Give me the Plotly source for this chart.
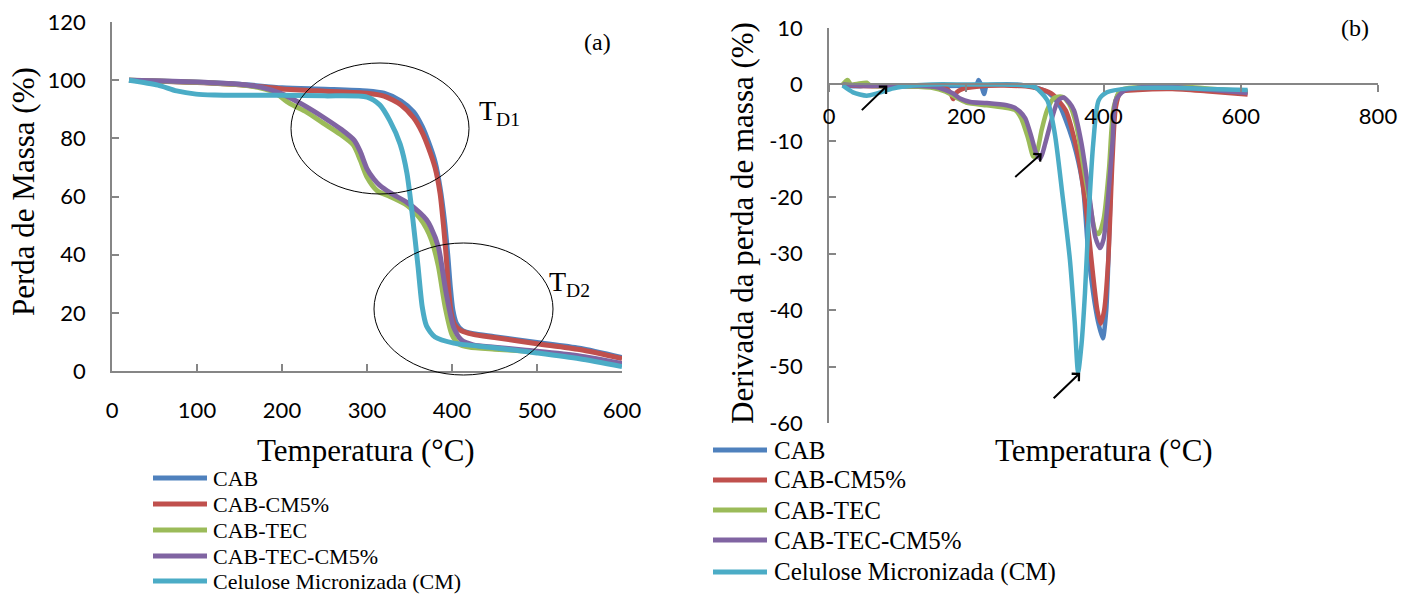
import plotly.graph_objects as go

W, H = 1414, 596

names = ["CAB", "CAB-CM5%", "CAB-TEC", "CAB-TEC-CM5%", "Celulose Micronizada (CM)"]
colors = ["#4F81BD", "#C0504D", "#9BBB59", "#8064A2", "#4BACC6"]

# ---------- (a) TG: Perda de Massa (%) vs Temperatura ----------
tg_cab_x = [20, 100, 150, 200, 250, 300, 320, 340, 355, 365, 372, 380, 386, 391, 395, 398, 401, 405, 412, 425, 450, 500, 550, 600]
tg_cab_y = [100, 99.3, 98.6, 97.4, 96.9, 96.3, 95.5, 92.8, 89, 84, 79, 72, 63, 52, 40, 29, 21, 16.5, 14, 12.8, 11.8, 9.8, 7.8, 4.6]

tg_cm5_x = [20, 100, 150, 200, 250, 300, 320, 340, 355, 365, 372, 380, 386, 390, 393, 396, 399, 403, 410, 425, 450, 500, 550, 600]
tg_cm5_y = [100, 99.2, 98.4, 97.0, 96.2, 95.5, 94.5, 91.5, 87, 82, 77, 70, 61, 50, 40, 28, 20, 16, 14, 12.6, 11.5, 9.4, 7.4, 4.3]

tg_tec_x = [20, 100, 150, 175, 190, 209, 229, 248, 268, 284, 292, 300, 312, 327, 347, 362, 370, 376, 384, 392, 400, 408, 420, 450, 484, 500, 550, 600]
tg_tec_y = [100, 99.3, 98.4, 97.3, 96, 92, 89, 85.3, 81.5, 77.7, 72.6, 66.7, 62, 60, 57, 52.6, 49, 45, 36, 22, 12.5, 9.3, 8.2, 7.5, 6.9, 6.5, 5, 2.3]

tg_teccm_x = [20, 100, 150, 175, 200, 225, 250, 270, 285, 292, 300, 308, 315, 327, 347, 362, 370, 375, 384, 393, 402, 411, 425, 450, 484, 500, 550, 600]
tg_teccm_y = [100, 99.4, 98.6, 97.6, 95.3, 91.5, 87, 83, 79.3, 75.5, 69.5, 66, 63.8, 61.3, 58, 54.5, 52, 49.5, 42.6, 27, 15, 10.7, 9, 8.2, 7.2, 6.8, 5.2, 2.6]

tg_cm_x = [20, 54, 76, 99, 121, 150, 200, 250, 300, 315, 327, 339, 347, 354, 360, 365, 370, 380, 402, 450, 500, 550, 600]
tg_cm_y = [100, 98.3, 96.3, 95.2, 94.9, 94.8, 94.8, 94.6, 94.2, 91.5, 86, 78, 68, 52, 36, 22, 15.5, 11.7, 9.6, 8, 6.2, 4.2, 1.5]

# ---------- (b) DTG: Derivada da perda de massa (%) vs Temperatura ----------
dtg_cab_x = [20, 30, 50, 80, 100, 150, 200, 215, 218, 222, 226, 230, 250, 280, 300, 320, 335, 350, 360, 370, 378, 385, 392, 399, 404, 409, 414, 420, 430, 450, 500, 550, 610]
dtg_cab_y = [0, -0.3, -0.3, -0.2, -0.3, -0.3, -0.2, 0, 0.8, -0.2, -1.7, -0.2, 0, -0.1, -0.5, -1.5, -3.5, -8, -12, -18, -30, -37, -42, -45, -40, -24, -8, -2, -1, -0.8, -0.6, -0.8, -1.3]

dtg_cm5_x = [20, 50, 100, 150, 170, 177, 181, 186, 195, 215, 250, 280, 300, 324, 345, 357, 365, 373, 379, 385, 391, 396, 401, 407, 413, 418, 425, 450, 500, 550, 610]
dtg_cm5_y = [0, -0.3, -0.3, -0.4, -0.6, -1.5, -2.6, -1.4, -0.8, -0.4, -0.2, -0.3, -0.6, -1.6, -4.6, -9.4, -14, -20.6, -27, -34, -40, -42.4, -40, -31, -13.5, -4, -1.4, -1.0, -0.8, -1.2, -1.8]

dtg_tec_x = [20, 27, 32, 55, 60, 100, 150, 170, 185, 200, 230, 260, 272, 280, 290, 298, 303, 310, 318, 328, 340, 350, 360, 370, 380, 388, 393, 400, 408, 415, 425, 450, 490, 550, 610]
dtg_tec_y = [0, 0.8, 0, 0.3, -0.2, -0.3, -0.6, -1.3, -2.3, -3.2, -3.7, -4.2, -4.6, -6, -9.5, -12.8, -12, -8, -4.5, -2.4, -2.2, -3.5, -7, -14, -21, -26, -26.5, -24, -15, -4, -1, -0.5, -0.2, -0.7, -1.2]

dtg_teccm_x = [20, 50, 100, 133, 157, 170, 181, 191, 206, 230, 259, 270, 278, 286, 295, 302, 308, 315, 324, 334, 342, 350, 357, 368, 379, 388, 395, 400, 405, 413, 418, 430, 450, 480, 500, 550, 610]
dtg_teccm_y = [0, -0.2, -0.3, -0.3, -0.5, -1, -1.6, -2.5, -3.1, -3.3, -3.7, -4.1, -4.8, -6, -9.3, -12.2, -13.1, -10.5, -6.4, -2.8, -2.3, -3.2, -4.6, -10.5, -19.4, -27, -29, -27.5, -22.4, -10.5, -2.8, -1.1, -0.6, -0.3, -0.4, -0.9, -1.5]

dtg_cm_x = [20, 35, 55, 70, 94, 122, 150, 200, 250, 280, 300, 318, 329, 340, 351, 358, 363, 368, 373, 379, 385, 393, 405, 436, 500, 550, 610]
dtg_cm_y = [-0.2, -1.4, -2, -1.6, -0.7, -0.2, 0, 0, 0, -0.1, -0.5, -2.8, -8.7, -19.4, -31, -42, -51, -46, -37, -22, -10.5, -2.8, -1.4, -0.7, -0.6, -0.8, -1.0]

tg_series = [(tg_cab_x, tg_cab_y), (tg_cm5_x, tg_cm5_y), (tg_tec_x, tg_tec_y),
             (tg_teccm_x, tg_teccm_y), (tg_cm_x, tg_cm_y)]
dtg_series = [(dtg_cab_x, dtg_cab_y), (dtg_cm5_x, dtg_cm5_y), (dtg_tec_x, dtg_tec_y),
              (dtg_teccm_x, dtg_teccm_y), (dtg_cm_x, dtg_cm_y)]

x1_ticks = [0, 100, 200, 300, 400, 500, 600]
y1_ticks = [0, 20, 40, 60, 80, 100, 120]
x2_ticks = [0, 200, 400, 600, 800]
y2_ticks = [10, 0, -10, -20, -30, -40, -50, -60]

x_title = "Temperatura (°C)"
y1_title = "Perda de Massa (%)"
y2_title = "Derivada da perda de massa (%)"

fig = go.Figure()
for (xs, ys), nm, c in zip(tg_series, names, colors):
    fig.add_trace(go.Scatter(x=xs, y=ys, mode="lines", name=nm, showlegend=False,
                             line=dict(color=c, width=5, shape="spline", smoothing=0.7),
                             xaxis="x", yaxis="y"))
for (xs, ys), nm, c in zip(dtg_series, names, colors):
    fig.add_trace(go.Scatter(x=xs, y=ys, mode="lines", name=nm, showlegend=False,
                             line=dict(color=c, width=4.5, shape="spline", smoothing=0.7),
                             xaxis="x2", yaxis="y2"))

def px(x):
    return x / W

def py(y):
    return 1 - y / H

AX = "#868686"
tickfont = dict(family="Lato", size=22, color="black")
serif = "Liberation Serif"

y2_dom = [py(423), py(28)]
x2_pos = y2_dom[0] + (0 - (-60)) / 70 * (y2_dom[1] - y2_dom[0])

common = dict(showline=True, linecolor=AX, linewidth=1.5, tickcolor=AX, tickwidth=1.5,
              ticklen=7, showgrid=False, zeroline=False, automargin=False, tickfont=tickfont)

fig.update_layout(
    template="none",
    width=W, height=H,
    margin=dict(l=0, r=0, t=0, b=0),
    paper_bgcolor="white", plot_bgcolor="rgba(0,0,0,0)",
    showlegend=False,
    xaxis=dict(domain=[px(112), px(622)], range=[0, 600], anchor="y", ticks="inside",
               tickvals=x1_ticks, ticktext=[str(v) for v in x1_ticks], ticklabelstandoff=19, **common),
    yaxis=dict(domain=[py(371), py(22)], range=[0, 120], anchor="x", ticks="inside",
               tickvals=y1_ticks, ticktext=[str(v) for v in y1_ticks], ticklabelstandoff=20, **common),
    xaxis2=dict(domain=[px(829), px(1378)], range=[0, 800], anchor="free", position=x2_pos,
                ticks="outside", tickvals=x2_ticks, ticktext=[str(v) for v in x2_ticks],
                ticklabelstandoff=5, **common),
    yaxis2=dict(domain=y2_dom, range=[-60, 10], anchor="x2", ticks="inside",
                tickvals=y2_ticks, ticktext=[str(v) for v in y2_ticks], ticklabelstandoff=20, **common),
)

ann = []
# axis titles
ann.append(dict(x=px(366), y=py(450), text=x_title, font=dict(family=serif, size=31, color="black")))
ann.append(dict(x=px(1104), y=py(450), text=x_title, font=dict(family=serif, size=31, color="black")))
ann.append(dict(x=px(23), y=py(192), text=y1_title, textangle=-90, font=dict(family=serif, size=31, color="black")))
ann.append(dict(x=px(742), y=py(223), text=y2_title, textangle=-90, font=dict(family=serif, size=31, color="black")))
# panel labels
ann.append(dict(x=px(597), y=py(42), text="(a)", font=dict(family=serif, size=24, color="black")))
ann.append(dict(x=px(1355), y=py(28), text="(b)", font=dict(family=serif, size=24, color="black")))
# T_D labels
ann.append(dict(x=px(477), y=py(113), text="T<sub>D1</sub>", xanchor="left", font=dict(family=serif, size=28, color="black")))
ann.append(dict(x=px(547), y=py(283), text="T<sub>D2</sub>", xanchor="left", font=dict(family=serif, size=28, color="black")))
for a in ann:
    a.setdefault("xref", "paper")
    a.setdefault("yref", "paper")
    a.setdefault("showarrow", False)
    a.setdefault("xanchor", "center")
    a.setdefault("yanchor", "middle")

# arrows pointing at DTG peaks
arrow_tips = [(85, -0.2), (310, -12.2), (366, -51.1)]
for (ax_, ay_), (dx, dy) in zip(arrow_tips, [(-27, 26), (-28, 25), (-28, 27)]):
    ann.append(dict(x=ax_, y=ay_, xref="x2", yref="y2", text="", showarrow=True,
                    ax=dx, ay=dy, arrowhead=4, arrowsize=1, arrowwidth=2, arrowcolor="black",
                    standoff=0, startstandoff=0))

# legends (left for (a), right for (b))
shapes = []
left_rows = [478, 504, 530, 556, 581]
right_rows = [450, 480, 510, 540, 572]
for rows, x0, x1, xt, fs in [(left_rows, 153, 207, 211, 22), (right_rows, 713, 767, 772, 25)]:
    for r, nm, c in zip(rows, names, colors):
        shapes.append(dict(type="line", xref="paper", yref="paper", x0=px(x0), x1=px(x1),
                           y0=py(r), y1=py(r), line=dict(color=c, width=5)))
        ann.append(dict(x=px(xt), y=py(r), xref="paper", yref="paper", text=nm, showarrow=False,
                        xanchor="left", yanchor="middle",
                        font=dict(family=serif, size=fs, color="black")))

# T_D ellipses
shapes.append(dict(type="circle", xref="paper", yref="paper", x0=px(291), x1=px(469),
                   y0=py(194), y1=py(63), line=dict(color="black", width=1)))
shapes.append(dict(type="circle", xref="paper", yref="paper", x0=px(374), x1=px(553),
                   y0=py(375), y1=py(243), line=dict(color="black", width=1)))

fig.update_layout(annotations=ann, shapes=shapes)
fig.write_html("out.html")
